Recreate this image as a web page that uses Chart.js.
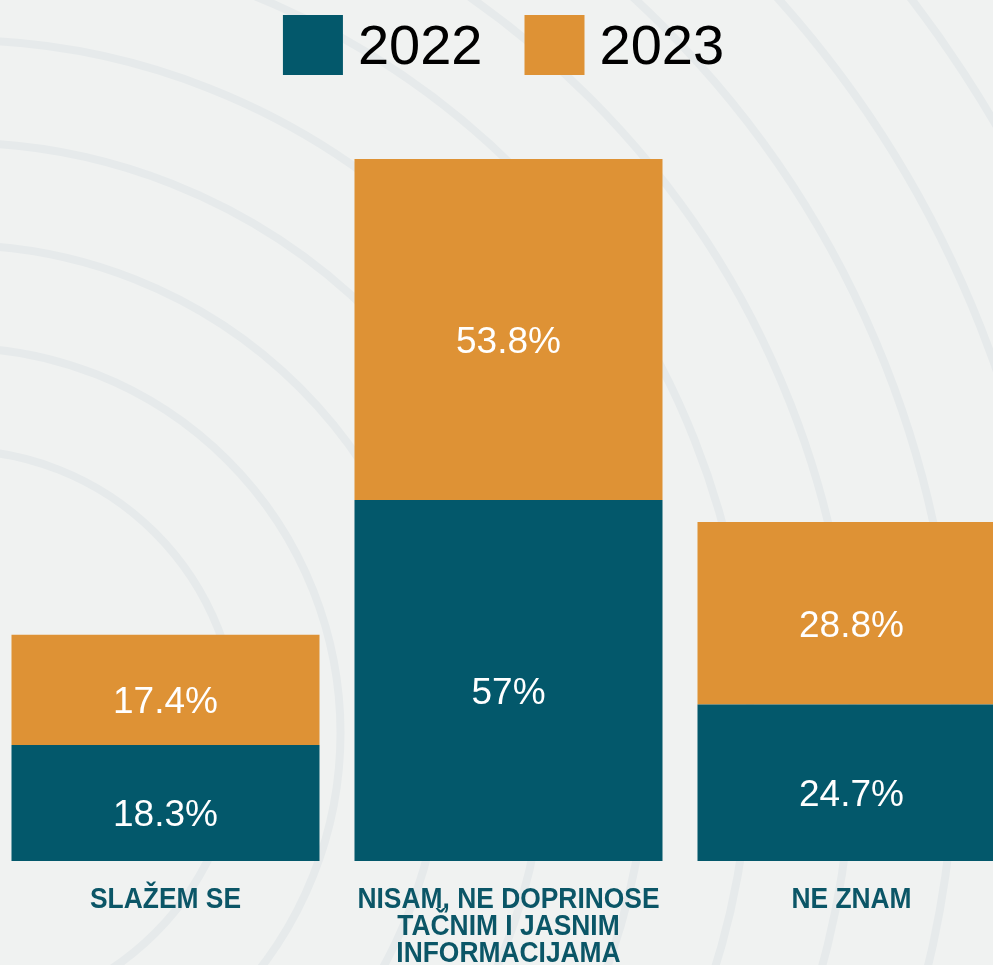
<!DOCTYPE html>
<html>
<head>
<meta charset="utf-8">
<script src="https://cdn.jsdelivr.net/npm/chart.js@4"></script>
<style>
html, body { margin: 0; padding: 0; overflow: hidden; background: #f0f2f1; }
#okvir { position: absolute; left: -6px; top: 0; width: 1029px; height: 1015px; }
</style>
</head>
<body>
<div id="okvir"><canvas id="grafikon"></canvas></div>
<script>
// podaci sa grafika
const kategorije = [['SLAŽEM SE'], ['NISAM, NE DOPRINOSE', 'TAČNIM I JASNIM', 'INFORMACIJAMA'], ['NE ZNAM']];
const godine = ['2022', '2023'];
const vrijednosti2022 = [18.3, 57, 24.7];
const vrijednosti2023 = [17.4, 53.8, 28.8];

const plava = '#03586b';
const narandzasta = '#de9235';
const bojaNatpisa = '#0b5667';

// pozadina sa blijedim krugovima (samo ukras)
const pozadina = {
    id: 'pozadina',
    beforeDraw(chart) {
        const c = chart.ctx;
        c.save();
        c.fillStyle = '#f0f2f1';
        c.fillRect(0, 0, chart.width, chart.height);
        c.strokeStyle = '#e6eaeb';
        c.lineWidth = 8;
        for (let r = 283; r < 1700; r += 102.5) {
            c.beginPath();
            c.arc(-39, 733, r, 0, Math.PI * 2);
            c.stroke();
        }
        c.restore();
    }
};

// procenti unutar stubova
const oznake = {
    id: 'oznake',
    afterDatasetsDraw(chart) {
        const c = chart.ctx;
        c.save();
        c.font = '37px "Liberation Sans", Arial, sans-serif';
        c.fillStyle = '#ffffff';
        c.textAlign = 'center';
        c.textBaseline = 'middle';
        chart.data.datasets.forEach((ds, i) => {
            chart.getDatasetMeta(i).data.forEach((bar, j) => {
                c.fillText(ds.data[j] + '%', bar.x, (bar.y + bar.base) / 2 + 13);
            });
        });
        c.restore();
    }
};

// nazivi kategorija ispod stubova, malo suzeni kao na originalu
const natpisi = {
    id: 'natpisi',
    afterDraw(chart) {
        const osa = chart.scales.x;
        const c = chart.ctx;
        c.save();
        c.font = 'bold 29px "Liberation Sans", Arial, sans-serif';
        c.fillStyle = bojaNatpisa;
        c.textAlign = 'center';
        c.textBaseline = 'middle';
        chart.data.labels.forEach((redovi, i) => {
            const x = osa.getPixelForTick(i);
            redovi.forEach((red, k) => {
                c.save();
                c.translate(x, chart.chartArea.bottom + 39 + k * 27);
                c.scale(0.91, 1);
                c.fillText(red, 0, 0);
                c.restore();
            });
        });
        c.restore();
    }
};

// legenda gore, crtana rucno da bi razmaci bili kao na originalu
const legenda = {
    id: 'legenda',
    afterDraw(chart) {
        const c = chart.ctx;
        c.save();
        c.font = '56px "Liberation Sans", Arial, sans-serif';
        c.textBaseline = 'middle';
        c.textAlign = 'left';
        const kutija = 60, razmak = 15, izmedju = 42, vrh = 15;
        const stavke = chart.data.datasets.map(ds => ({
            boja: ds.backgroundColor,
            tekst: ds.label,
            sirina: c.measureText(ds.label).width
        }));
        const ukupno = stavke.reduce((s, st) => s + kutija + razmak + st.sirina, 0) + izmedju * (stavke.length - 1);
        let x = (chart.chartArea.left + chart.chartArea.right) / 2 - 5 - ukupno / 2;
        stavke.forEach(st => {
            c.fillStyle = st.boja;
            c.fillRect(x, vrh, kutija, kutija);
            c.fillStyle = '#000000';
            c.fillText(st.tekst, x + kutija + razmak, vrh + kutija / 2 + 4);
            x += kutija + razmak + st.sirina + izmedju;
        });
        c.restore();
    }
};

const ctx = document.getElementById('grafikon').getContext('2d');
const grafikon = new Chart(ctx, {
    type: 'bar',
    data: {
        labels: kategorije,
        datasets: [{
            label: godine[0],
            data: vrijednosti2022,
            backgroundColor: plava,
            borderWidth: 0
        }, {
            label: godine[1],
            data: vrijednosti2023,
            backgroundColor: narandzasta,
            borderWidth: 0
        }]
    },
    options: {
        responsive: true,
        maintainAspectRatio: false,
        animation: false,
        categoryPercentage: 1,
        barPercentage: 0.898,
        layout: { padding: { top: 85, bottom: 25, left: 0, right: 0 } },
        plugins: {
            tooltip: { enabled: false },
            legend: { display: false }
        },
        scales: {
            x: {
                stacked: true,
                grid: { display: false, drawTicks: false },
                border: { display: false },
                ticks: {
                    // mjesto za natpise se cuva, a crta ih plugin iznad
                    color: 'rgba(0,0,0,0)',
                    padding: 24,
                    autoSkip: false,
                    maxRotation: 0,
                    font: { family: '"DejaVu Sans Condensed", sans-serif', size: 27, weight: 'bold', lineHeight: 1 }
                }
            },
            y: {
                stacked: true,
                display: false,
                min: 0,
                max: 122.5
            }
        }
    },
    plugins: [pozadina, oznake, natpisi, legenda]
});
</script>
</body>
</html>
